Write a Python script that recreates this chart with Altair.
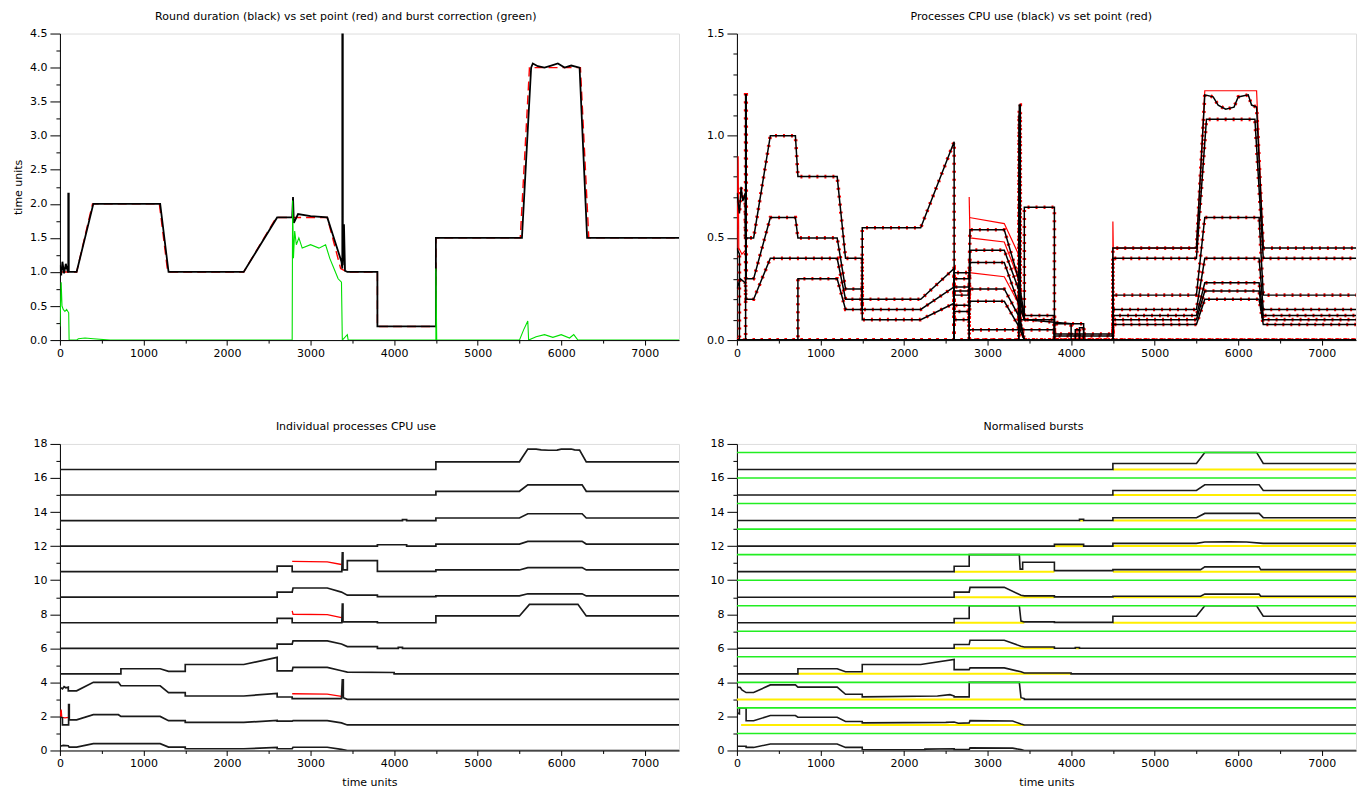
import altair as alt
import pandas as pd

T_END = 7410
OFFSET = 1.5

# ---------- Panel 1: round duration ----------
round_black = [(0, 1.1), (15, 0.95), (30, 1.15), (50, 0.98), (70, 1.12), (95, 1.0), (100, 1.0), (100, 2.15),
               (106, 2.15), (106, 1.0), (200, 1.0), (400, 2.0), (1200, 2.0), (1300, 1.0), (2200, 1.0),
               (2600, 1.8), (2780, 1.8), (2790, 2.1), (2800, 1.72), (2850, 1.85), (3000, 1.82), (3200, 1.8),
               (3370, 1.15), (3380, 1.05), (3380, 4.5), (3386, 4.5), (3386, 1.1), (3400, 1.7), (3412, 1.02),
               (3440, 1.0), (3800, 1.0), (3800, 0.2), (4500, 0.2), (4500, 1.5), (5530, 1.5), (5640, 4.0),
               (5660, 4.06), (5720, 4.02), (5800, 4.0), (5880, 4.03), (5960, 4.06), (6040, 4.0), (6120, 4.03),
               (6220, 4.0), (6310, 1.5), (7410, 1.5)]
round_red = [(0, 1.0), (200, 1.0), (390, 2.0), (1190, 2.0), (1290, 1.0), (2200, 1.0), (2590, 1.8), (3200, 1.8),
             (3360, 1.05), (3440, 1.0), (3800, 1.0), (3800, 0.2), (4500, 0.2), (4500, 1.5), (5510, 1.5),
             (5620, 4.0), (6230, 4.0), (6330, 1.5), (7410, 1.5)]
burst_green = [(0, 0.2), (15, 0.85), (25, 0.5), (40, 0.45), (60, 0.42), (80, 0.45), (105, 0.4), (110, 0.0),
               (200, 0.0), (220, 0.02), (300, 0.03), (400, 0.02), (600, 0.0), (2780, 0.0), (2785, 2.05),
               (2795, 1.2), (2810, 1.6), (2830, 1.4), (2860, 1.5), (2900, 1.35), (3000, 1.4), (3100, 1.35),
               (3180, 1.4), (3230, 1.2), (3280, 1.05), (3330, 0.9), (3370, 0.85), (3380, 0.0), (3440, 0.08),
               (3450, 0.0), (4500, 0.0), (4500, 1.05), (4510, 0.0), (5500, 0.0), (5550, 0.15), (5600, 0.28),
               (5610, 0.0), (5700, 0.05), (5800, 0.08), (5900, 0.04), (6000, 0.08), (6100, 0.03), (6150, 0.08),
               (6200, 0.0), (7410, 0.0)]

# ---------- Per-process CPU use ----------
cpu_p0 = [(0, 0.25), (40, 0.3), (100, 0.28), (110, 0.2), (200, 0.2), (400, 0.4), (1200, 0.4), (1300, 0.2),
          (1500, 0.2), (1500, 0.1), (2200, 0.1), (2600, 0.18), (2600, 0.1), (2780, 0.1), (2790, 0.19),
          (3200, 0.19), (3370, 0.07), (3440, 0.0), (7410, 0.0)]
cpu_p1 = [(0, 0.45), (30, 0.42), (30, 0.0), (104, 0.0), (104, 1.2), (112, 1.2), (112, 0.3), (200, 0.3),
          (400, 0.6), (700, 0.6), (730, 0.5), (1200, 0.5), (1300, 0.25), (1500, 0.25), (1500, 0.15),
          (2200, 0.15), (2600, 0.26), (2600, 0.22), (2780, 0.22), (2790, 0.25), (3200, 0.25), (3370, 0.12),
          (3440, 0.0), (7410, 0.0)]
cpu_p2 = [(0, 0.72), (30, 0.62), (50, 0.75), (70, 0.68), (100, 0.72), (100, 0.5), (200, 0.5), (400, 1.0),
          (700, 1.0), (730, 0.8), (1200, 0.8), (1300, 0.4), (1500, 0.4), (1500, 0.2), (2200, 0.2), (2600, 0.35),
          (2600, 0.14), (2780, 0.14), (2780, 0.05), (3370, 0.05), (3380, 1.15), (3392, 1.15), (3392, 0.1),
          (3440, 0.0), (7410, 0.0)]
cpu_p3 = [(0, 0.0), (730, 0.0), (730, 0.3), (1200, 0.3), (1300, 0.15), (1500, 0.15), (1500, 0.55), (2200, 0.55),
          (2600, 0.97), (2600, 0.17), (2780, 0.17), (2790, 0.38), (3200, 0.38), (3370, 0.18), (3440, 0.1),
          (4000, 0.08), (4000, 0.0), (7410, 0.0)]
cpu_p4 = [(0, 0.0), (2600, 0.0), (2600, 0.24), (2780, 0.24), (2790, 0.44), (3200, 0.44), (3370, 0.25),
          (3440, 0.1), (3800, 0.1), (3800, 0.0), (4050, 0.0), (4050, 0.05), (4100, 0.05), (4100, 0.0), (7410, 0.0)]
cpu_p5 = [(0, 0.0), (2600, 0.0), (2600, 0.26), (2780, 0.26), (2780, 0.0), (3374, 0.0), (3380, 1.1), (3388, 1.1),
          (3388, 0.05), (3800, 0.05), (3800, 0.0), (4500, 0.0), (4500, 0.4), (5500, 0.4), (5620, 1.08),
          (6200, 1.08), (6300, 0.4), (7410, 0.4)]
cpu_p6 = [(0, 0.0), (2600, 0.0), (2600, 0.3), (2780, 0.3), (2790, 0.54), (3200, 0.54), (3370, 0.3), (3440, 0.12),
          (3800, 0.12), (3800, 0.03), (4500, 0.03), (4500, 0.076), (5500, 0.076), (5600, 0.2), (6250, 0.2),
          (6300, 0.076), (7410, 0.076)]
cpu_p7 = [(0, 0.0), (2600, 0.0), (2600, 0.33), (2780, 0.33), (2780, 0.0), (3374, 0.0), (3380, 1.1), (3388, 1.1),
          (3388, 0.1), (3440, 0.1), (3440, 0.65), (3800, 0.65), (3800, 0.02), (4500, 0.02), (4500, 0.1),
          (5500, 0.1), (5600, 0.24), (6250, 0.24), (6300, 0.1), (7410, 0.1)]
cpu_p8 = [(0, 0.0), (3800, 0.0), (3800, 0.08), (4150, 0.08), (4150, 0.0), (4500, 0.0), (4500, 0.12), (5500, 0.12),
          (5600, 0.28), (6250, 0.28), (6300, 0.12), (7410, 0.12)]
cpu_p9 = [(0, 0.0), (4100, 0.0), (4100, 0.06), (4150, 0.06), (4150, 0.0), (4500, 0.0), (4500, 0.15), (5500, 0.15),
          (5600, 0.4), (6250, 0.4), (6300, 0.15), (7410, 0.15)]
cpu_p10 = [(0, 0.0), (4500, 0.0), (4500, 0.22), (5500, 0.22), (5600, 0.6), (6250, 0.6), (6300, 0.22), (7410, 0.22)]
cpu_p11 = [(0, 0.0), (4500, 0.0), (4500, 0.45), (5500, 0.45), (5600, 1.2), (5700, 1.19), (5760, 1.15),
           (5850, 1.13), (5950, 1.14), (6000, 1.19), (6120, 1.2), (6160, 1.15), (6220, 1.14), (6300, 0.45),
           (7410, 0.45)]
cpu_all = [cpu_p0, cpu_p1, cpu_p2, cpu_p3, cpu_p4, cpu_p5, cpu_p6, cpu_p7, cpu_p8, cpu_p9, cpu_p10, cpu_p11]

# set points (red) where they differ from the measured use
setpoint_p1 = [(0, 0.45), (15, 0.9), (22, 0.45), (60, 0.42), (104, 0.44)]
setpoint_p2 = [(2780, 0.33), (3200, 0.31), (3370, 0.18)]
setpoint_p5 = [(2780, 0.7), (2790, 0.5), (3200, 0.48), (3370, 0.3)]
setpoint_p7 = [(2780, 0.6), (3200, 0.57), (3370, 0.42)]
setpoint_p11 = [(4500, 0.0), (4500, 0.58), (4505, 0.45), (5500, 0.45), (5600, 1.22), (6220, 1.22), (6300, 0.45)]
setpoint_extra = {1: setpoint_p1, 2: setpoint_p2, 5: setpoint_p5, 7: setpoint_p7, 11: setpoint_p11}
starved = [1, 2, 5, 7]

# ---------- Normalised bursts ----------
burst_p0 = [(0, 0.25), (110, 0.25), (110, 0.18), (200, 0.18), (400, 0.38), (1200, 0.38), (1300, 0.18), (1500, 0.18),
            (1500, 0.04), (2250, 0.04), (2250, 0.08), (2600, 0.1), (2600, 0.05), (2780, 0.05), (2790, 0.15),
            (3300, 0.14), (3400, 0.05), (3440, 0.0), (7410, 0.0)]
burst_p1 = [(0, 0.7), (30, 0.65), (30, 1.0), (110, 1.0), (110, 0.25), (200, 0.25), (400, 0.55), (700, 0.55),
            (730, 0.45), (1200, 0.45), (1300, 0.2), (1500, 0.2), (1500, 0.12), (2500, 0.15), (2600, 0.17),
            (2650, 0.1), (2780, 0.12), (2790, 0.25), (3300, 0.23), (3400, 0.05), (3440, 0.0), (7410, 0.0)]
burst_p2 = [(0, 0.72), (40, 0.7), (60, 0.55), (110, 0.4), (200, 0.4), (400, 0.85), (700, 0.85), (730, 0.72),
            (1200, 0.72), (1300, 0.3), (1500, 0.3), (1500, 0.15), (2400, 0.2), (2550, 0.28), (2600, 0.2),
            (2600, 0.15), (2780, 0.15), (2780, 1.0), (3380, 1.0), (3400, 0.1), (3440, 0.05), (3440, 0.0),
            (7410, 0.0)]
burst_p3 = [(0, 0.0), (730, 0.0), (730, 0.3), (1200, 0.3), (1300, 0.12), (1500, 0.12), (1500, 0.55), (2200, 0.55),
            (2600, 0.85), (2600, 0.25), (2780, 0.25), (2790, 0.35), (3200, 0.35), (3400, 0.12), (3440, 0.05),
            (4000, 0.05), (4000, 0.0), (7410, 0.0)]
burst_p4 = [(0, 0.0), (2600, 0.0), (2600, 0.22), (2780, 0.22), (2790, 0.47), (3200, 0.47), (3400, 0.12),
            (3440, 0.08), (3800, 0.08), (3800, 0.0), (4050, 0.0), (4050, 0.05), (4100, 0.05), (4100, 0.0),
            (7410, 0.0)]
burst_p5 = [(0, 0.0), (2600, 0.0), (2600, 0.25), (2780, 0.25), (2780, 1.0), (3380, 1.0), (3400, 0.1), (3440, 0.05),
            (3800, 0.05), (3800, 0.02), (4500, 0.02), (4500, 0.38), (5500, 0.38), (5600, 1.0), (6220, 1.0),
            (6300, 0.38), (7410, 0.38)]
burst_p6 = [(0, 0.0), (2600, 0.0), (2600, 0.3), (2780, 0.3), (2790, 0.58), (3200, 0.58), (3400, 0.12), (3440, 0.08),
            (3800, 0.08), (3800, 0.02), (4500, 0.02), (4500, 0.06), (5550, 0.06), (5600, 0.18), (6250, 0.18),
            (6270, 0.06), (7410, 0.06)]
burst_p7 = [(0, 0.0), (2600, 0.0), (2600, 0.32), (2780, 0.32), (2780, 1.0), (3380, 1.0), (3390, 0.15),
            (3420, 0.15), (3420, 0.55), (3800, 0.55), (3800, 0.06), (4500, 0.06), (4500, 0.12), (5550, 0.12),
            (5600, 0.28), (6250, 0.28), (6270, 0.12), (7410, 0.12)]
burst_p8 = [(0, 0.0), (3800, 0.0), (3800, 0.1), (4150, 0.1), (4150, 0.0), (4500, 0.0), (4500, 0.16), (5500, 0.16),
            (5600, 0.24), (5900, 0.26), (6100, 0.24), (6300, 0.16), (7410, 0.16)]
burst_p9 = [(0, 0.0), (4100, 0.0), (4100, 0.08), (4150, 0.08), (4150, 0.0), (4500, 0.0), (4500, 0.17),
            (5500, 0.17), (5600, 0.42), (6250, 0.42), (6300, 0.17), (7410, 0.17)]
burst_p10 = [(0, 0.0), (4500, 0.0), (4500, 0.27), (5500, 0.27), (5600, 0.6), (6250, 0.6), (6300, 0.27),
             (7410, 0.27)]
burst_p11 = [(0, 0.0), (4500, 0.0), (4500, 0.35), (5500, 0.35), (5600, 1.0), (6220, 1.0), (6300, 0.35),
             (7410, 0.35)]
burst_all = [burst_p0, burst_p1, burst_p2, burst_p3, burst_p4, burst_p5, burst_p6, burst_p7, burst_p8, burst_p9,
             burst_p10, burst_p11]

# periods when each process is active (yellow baselines)
active = {1: [(50, 3440)], 2: [(0, 3400)], 3: [(730, 4000)], 4: [(2600, 3800), (4050, 4100)],
          5: [(2600, 3440), (4500, 7410)], 6: [(2600, 3800), (4500, 7410)], 7: [(2600, 3800), (4500, 7410)],
          8: [(3800, 4150), (4500, 7410)], 9: [(4100, 4150), (4500, 7410)], 10: [(4500, 7410)],
          11: [(4500, 7410)]}


def rows(key, pts, off=0.0):
    return [dict(key=key, i=k, t=t, v=v + off) for k, (t, v) in enumerate(pts)]


FONT = "DejaVu Sans"
x_values = list(range(0, 7001, 500))


def xaxis(title=None):
    return alt.Axis(values=x_values, format="d",
                    labelExpr="datum.value % 1000 === 0 ? datum.label : ''",
                    tickSize={"condition": {"test": "datum.value % 1000 !== 0", "value": 3}, "value": 5},
                    title=title, grid=False, domainColor="black", tickColor="black", labelColor="black",
                    labelFont=FONT, labelFontSize=11, labelPadding=2, labelFlush=False, labelOverlap=False,
                    titleFont=FONT, titleFontSize=11, titleFontWeight="normal", titleColor="black",
                    titlePadding=8)


def yaxis(values, label_expr, minor_test, title=None):
    return alt.Axis(values=values, labelExpr=label_expr,
                    tickSize={"condition": {"test": minor_test, "value": 4}, "value": 10},
                    title=title, grid=False, domainColor="black", tickColor="black", labelColor="black",
                    labelFont=FONT, labelFontSize=11, labelPadding=3, labelFlush=False, labelOverlap=False,
                    titleFont=FONT, titleFontSize=11, titleFontWeight="normal", titleColor="black",
                    titlePadding=6)


def ttl(text):
    return alt.TitleParams(text, font=FONT, fontSize=11, fontWeight="normal", color="black",
                           anchor="middle", frame="bounds", offset=6)


xs = alt.Scale(domain=[0, T_END], nice=False, zero=False)

# ---------- Panel 1 ----------
y1_vals = [k * 0.25 for k in range(19)]
y1_axis = yaxis(y1_vals, "round(datum.value*100) % 50 === 0 ? format(datum.value, '.1f') : ''",
                "round(datum.value*100) % 50 !== 0", title="time units")
x1_axis = xaxis()
ys1 = alt.Scale(domain=[0, 4.5], nice=False, zero=False)


def lines(df, color, width, dash=None, xa=None, ya=None, ys=None):
    kw = dict(color=color, strokeWidth=width, clip=True)
    if dash:
        kw["strokeDash"] = dash
    return alt.Chart(df).mark_line(**kw).encode(
        x=alt.X("t:Q", scale=xs, axis=xa),
        y=alt.Y("v:Q", scale=ys, axis=ya),
        detail="key:N",
        order="i:Q",
    )


df1_red = pd.DataFrame(rows("sp", round_red))
df1_blk = pd.DataFrame(rows("rd", round_black))
df1_grn = pd.DataFrame(rows("gr", burst_green))
p1 = alt.layer(
    lines(df1_red, "#ff0000", 1.4, [9, 5], x1_axis, y1_axis, ys1),
    lines(df1_blk, "#000000", 1.8, None, x1_axis, y1_axis, ys1),
    lines(df1_grn, "#00e000", 1.1, None, x1_axis, y1_axis, ys1),
).properties(width=620, height=307,
             title=ttl("Round duration (black) vs set point (red) and burst correction (green)"))

# ---------- Panel 2 ----------
y2_vals = [k / 10 for k in range(16)]
y2_axis = yaxis(y2_vals, "round(datum.value*10) % 5 === 0 ? format(datum.value, '.1f') : ''",
                "round(datum.value*10) % 5 !== 0")
ys2 = alt.Scale(domain=[0, 1.5], nice=False, zero=False)
r2_cpu, r2_sp = [], []
for n, pts in enumerate(cpu_all):
    r2_cpu += rows(f"p{n}", pts)
for n, pts in setpoint_extra.items():
    r2_sp += rows(f"s{n}", pts)
df2_cpu = pd.DataFrame(r2_cpu)
df2_sp = pd.DataFrame(r2_sp)
p2 = alt.layer(
    lines(df2_cpu, "#ff0000", 3.6, [2, 6], x1_axis, y2_axis, ys2),
    lines(df2_sp, "#ff0000", 1.2, None, x1_axis, y2_axis, ys2),
    lines(df2_cpu, "#000000", 1.5, None, x1_axis, y2_axis, ys2),
).properties(width=620, height=307, title=ttl("Processes CPU use (black) vs set point (red)"))

# ---------- Panel 3 ----------
y3_vals = list(range(19))
y3_axis = yaxis(y3_vals, "datum.value % 2 === 0 ? datum.label : ''", "datum.value % 2 !== 0")
ys3 = alt.Scale(domain=[0, 18], nice=False, zero=False)
x3_axis = xaxis("time units")
r3_cpu, r3_sp = [], []
for n, pts in enumerate(cpu_all):
    r3_cpu += rows(f"p{n}", pts, OFFSET * n)
for n in starved:
    r3_sp += rows(f"s{n}", setpoint_extra[n], OFFSET * n)
df3_cpu = pd.DataFrame(r3_cpu)
df3_sp = pd.DataFrame(r3_sp)
p3 = alt.layer(
    lines(df3_sp, "#ff0000", 1.3, None, x3_axis, y3_axis, ys3),
    lines(df3_cpu, "#1a1a1a", 1.7, None, x3_axis, y3_axis, ys3),
).properties(width=620, height=307, title=ttl("Individual processes CPU use"))

# ---------- Panel 4 ----------
r4_b = []
for n, pts in enumerate(burst_all):
    r4_b += rows(f"b{n}", pts, OFFSET * n)
df4_b = pd.DataFrame(r4_b)
df4_green = pd.DataFrame({"v": [OFFSET * n + 1 for n in range(12)]})
r4_y = []
for n, spans in active.items():
    for a, b in spans:
        r4_y.append(dict(t=a, t2=b, v=OFFSET * n))
df4_yellow = pd.DataFrame(r4_y)

p4 = alt.layer(
    alt.Chart(df4_yellow).mark_rule(color="#ffee00", strokeWidth=2).encode(
        x=alt.X("t:Q", scale=xs, axis=x3_axis), x2="t2:Q",
        y=alt.Y("v:Q", scale=ys3, axis=y3_axis)),
    lines(df4_b, "#1a1a1a", 1.6, None, x3_axis, y3_axis, ys3),
    alt.Chart(df4_green).mark_rule(color="#22ee22", strokeWidth=1.6).encode(
        y=alt.Y("v:Q", scale=ys3, axis=y3_axis)),
).properties(width=620, height=307, title=ttl("Normalised bursts"))

chart = alt.concat(p1, p2, p3, p4, columns=2, spacing={"row": 104, "column": 58}, bounds="flush").properties(
    padding={"left": 4, "top": 1, "right": 2, "bottom": 0}
).configure_view(stroke="black", strokeWidth=1).configure(background="white")

chart.save("out.html", embed_options={"renderer": "svg", "actions": False})
